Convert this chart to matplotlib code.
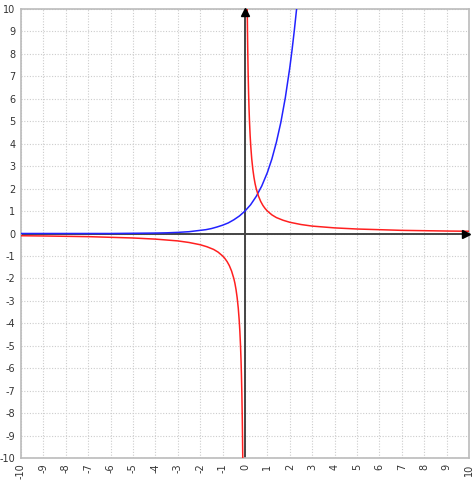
import matplotlib
matplotlib.use("Agg")
import matplotlib.pyplot as plt

# y = e^x
blue_x = [-10, -8, -6, -5, -4, -3.5, -3, -2.5, -2, -1.75, -1.5, -1.25, -1, -0.75,
          -0.5, -0.25, 0, 0.25, 0.5, 0.75, 1, 1.2, 1.4, 1.6, 1.8, 2, 2.1, 2.2, 2.3]
blue_y = [0.0, 0.0, 0.0, 0.01, 0.02, 0.03, 0.05, 0.08, 0.14, 0.17, 0.22, 0.29, 0.37,
          0.47, 0.61, 0.78, 1.0, 1.28, 1.65, 2.12, 2.72, 3.32, 4.06, 4.95, 6.05,
          7.39, 8.17, 9.03, 9.97]

# y = 1/x, right branch
red_rx = [0.1, 0.11, 0.12, 0.14, 0.16, 0.18, 0.2, 0.23, 0.26, 0.3, 0.35, 0.4,
          0.45, 0.5, 0.6, 0.7, 0.8, 0.9, 1, 1.2, 1.4, 1.7, 2, 2.5, 3, 3.5, 4, 5,
          6, 7, 8, 9, 10]
red_ry = [10.0, 9.09, 8.33, 7.14, 6.25, 5.56, 5.0, 4.35, 3.85, 3.33, 2.86, 2.5,
          2.22, 2.0, 1.67, 1.43, 1.25, 1.11, 1.0, 0.83, 0.71, 0.59, 0.5, 0.4,
          0.33, 0.29, 0.25, 0.2, 0.17, 0.14, 0.125, 0.11, 0.1]
# left branch
red_lx = [-10, -9, -8, -7, -6, -5, -4, -3.5, -3, -2.5, -2, -1.7, -1.4, -1.2, -1,
          -0.9, -0.8, -0.7, -0.6, -0.5, -0.45, -0.4, -0.35, -0.3, -0.26, -0.23,
          -0.2, -0.18, -0.16, -0.14, -0.12, -0.11, -0.1]
red_ly = [-0.1, -0.11, -0.125, -0.14, -0.17, -0.2, -0.25, -0.29, -0.33, -0.4,
          -0.5, -0.59, -0.71, -0.83, -1.0, -1.11, -1.25, -1.43, -1.67, -2.0,
          -2.22, -2.5, -2.86, -3.33, -3.85, -4.35, -5.0, -5.56, -6.25, -7.14,
          -8.33, -9.09, -10.0]

ticks = list(range(-10, 11))

fig = plt.figure(figsize=(4.76, 4.80), dpi=100)
ax = fig.add_axes([21 / 476, 22 / 480, 448 / 476, 449 / 480])
ax.set_xlim(-10, 10)
ax.set_ylim(-10, 10)

# dotted grid at every unit
for t in ticks:
    ax.axvline(t, color="#cccccc", lw=0.8, ls=(0, (1, 1.5)), zorder=0)
    ax.axhline(t, color="#cccccc", lw=0.8, ls=(0, (1, 1.5)), zorder=0)

# axes through origin with arrows
ax.axhline(0, color="#444444", lw=1.4, zorder=2)
ax.axvline(0, color="#444444", lw=1.4, zorder=2)
ax.plot([0], [9.85], marker="^", color="black", ms=6, clip_on=False, zorder=5)
ax.plot([9.85], [0], marker=">", color="black", ms=6, clip_on=False, zorder=5)

ax.plot(blue_x, blue_y, color="#2222ff", lw=1.1, zorder=3)
ax.plot(red_rx, red_ry, color="#ff2020", lw=1.1, zorder=3)
ax.plot(red_lx, red_ly, color="#ff2020", lw=1.1, zorder=3)

ax.set_xticks(ticks)
ax.set_yticks(ticks)
ax.set_xticklabels([str(t) for t in ticks], rotation=90)
ax.set_yticklabels([str(t) for t in ticks])
ax.tick_params(length=0, labelsize=7, colors="#333333", pad=4)
for s in ax.spines.values():
    s.set_color("#bbbbbb")
    s.set_linewidth(1.2)

fig.savefig("out.png", dpi=100)
